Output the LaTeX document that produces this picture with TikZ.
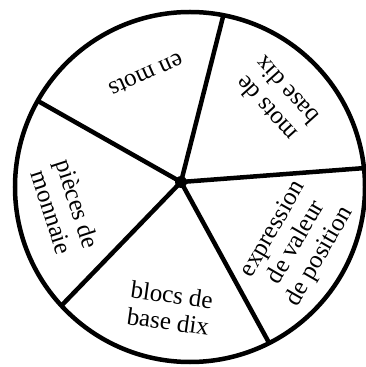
\documentclass[tikz,border=0pt]{standalone}
\usepackage{fontspec}
\setmainfont{Liberation Serif}
\usetikzlibrary{calc}
\begin{document}
\begin{tikzpicture}[x=1pt,y=1pt,
  rim/.style={line width=4.5pt},
  lbl/.style={align=center, inner sep=0pt, font=\fontsize{25}{27}\selectfont}]
 \useasboundingbox (0,0) rectangle (365,367);
 \coordinate (ctr) at (190,180);
 \coordinate (hub) at (181,185);
 \draw[rim] (ctr) circle (175);
 \foreach \a/\n in {79/stop,6.2/sright,-63.1/slowr,222.7/slowl,150.5/supl}
   \coordinate (\n) at ($(ctr)+(\a:175)$);
 \foreach \n in {stop,sright,slowr,slowl,supl} \draw[rim] (hub) -- (\n);
 \fill (hub) circle (6);
 \node[lbl, rotate=204] (enmots) at (146,292) {en mots};
 \node[lbl, rotate=132] (motsde) at (276,267) {mots de\\base dix};
 \node[lbl, rotate=-72] (pieces) at (65,159) {pièces de\\monnaie};
 \node[lbl, rotate=-8] (blocs) at (170,59) {blocs de\\base dix};
 \node[lbl, rotate=60] (expr) at (297,124) {expression\\de valeur\\de position};
\end{tikzpicture}
\end{document}
